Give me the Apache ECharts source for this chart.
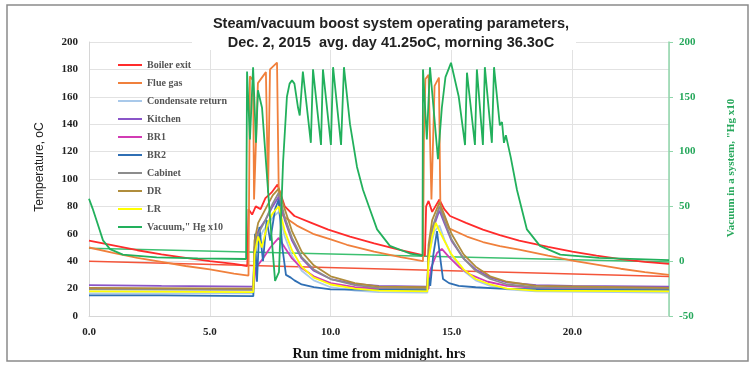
<!DOCTYPE html>
<html><head><meta charset="utf-8">
<script src="https://cdn.jsdelivr.net/npm/echarts@6/dist/echarts.min.js"></script>
<style>html,body{margin:0;padding:0;background:#fff}#c{width:755px;height:366px}</style>
</head><body><div id="c"></div>
<script>
// ---- data: [hours from midnight, value] ----
const titleLine1 = 'Steam/vacuum boost system operating parameters,';
const titleLine2 = 'Dec. 2, 2015  avg. day 41.25oC, morning 36.3oC';
const seriesNames = ['Boiler exit','Flue gas','Condensate return','Kitchen','BR1','BR2','Cabinet','DR','LR','Vacuum," Hg x10'];

const boilerExit = [[0,55],[1,51.5],[2,48],[3,45],[4,42.5],[5,40],[6,38],[6.55,36.5],[6.6,78],[6.75,74],[6.9,80],[7.1,78],[7.3,86],[7.55,90],[7.8,96],[7.95,88],[8.1,80],[8.5,73],[9.2,68],[9.9,63],[10.8,58],[11.8,53],[12.9,48],[13.9,44],[13.95,80],[14.05,84],[14.2,76],[14.5,85],[14.7,78],[14.94,73],[15.6,68],[16.3,63],[17,59],[17.8,55],[19,50.5],[20,47],[21,44],[22,41.5],[23,39.5],[24,38]];
const flueGas = [[0,50],[1,46],[2,42.5],[3,39.5],[4,36.5],[5,34],[6,31],[6.6,29.5],[6.66,175],[6.79,172],[6.83,85],[6.99,170],[7.32,178],[7.41,90],[7.49,180],[7.78,185],[7.86,80],[8.03,73],[8.6,66],[9.27,60],[10,56],[10.67,52],[11.8,47],[12.9,43],[13.82,40],[13.86,130],[13.92,173],[14.05,176],[14.12,176],[14.17,85],[14.3,168],[14.48,174],[14.54,80],[14.9,64],[15.64,58],[16.3,54],[17,51],[17.8,48.5],[19,44],[20,40.5],[21,37.5],[22,34.5],[23,32],[24,30]];
const condensateReturn = [[0,16.5],[6.8,16.5],[6.88,50],[7.2,62],[7.6,72],[7.85,76],[8.1,58],[8.4,44],[8.8,33],[9.3,26],[10,21],[11,18.5],[12,17.5],[14,17],[14.06,45],[14.3,62],[14.5,66],[14.7,56],[15,44],[15.5,33],[16,26],[16.6,22],[17.3,19.5],[18.5,18],[24,17]];
const kitchen = [[0,22.5],[3,22],[6.8,21.5],[6.85,50],[7,62],[7.3,70],[7.6,80],[7.85,87],[8.1,70],[8.4,55],[8.8,42],[9.3,33],[10,27],[11,23.5],[12,22],[14,21.5],[14.05,45],[14.2,62],[14.5,77],[14.7,68],[15,55],[15.5,42],[16,34],[16.6,28],[17.3,24.5],[18.5,22.5],[20,22],[24,21.5]];
const br1 = [[0,20],[6.8,19.5],[6.9,35],[7.2,42],[7.5,50],[7.85,57],[8.1,50],[8.4,42],[8.8,35],[9.3,29],[10,24],[11,21],[12,20],[14.05,20],[14.15,35],[14.4,46],[14.6,49],[14.9,43],[15.3,36],[15.8,30],[16.5,25],[17.3,22],[18.5,20.5],[24,20]];
const br2 = [[0,15],[3,15],[6.8,14.5],[6.87,60],[6.95,25],[7.05,65],[7.2,40],[7.35,70],[7.5,55],[7.7,78],[7.85,85],[8,50],[8.15,30],[8.35,28],[8.5,26],[8.8,23],[9.3,21],[10,19.5],[12,19],[14,19],[14.07,28],[14.12,22],[14.25,45],[14.4,62],[14.55,40],[14.65,27],[14.9,24],[15.3,22],[16,21],[17,20],[20,19],[24,19]];
const cabinet = [[0,19.5],[6.8,19],[6.85,48],[7,60],[7.3,70],[7.6,82],[7.85,90],[8.1,72],[8.4,57],[8.8,43],[9.3,34],[10,27],[11,22.5],[12,20.5],[14,20],[14.05,48],[14.2,64],[14.5,80],[14.7,70],[15,56],[15.5,42],[16,33],[16.6,27],[17.3,23],[18.5,21],[24,20]];
const dr = [[0,20.5],[6.8,20],[6.85,55],[7,68],[7.3,78],[7.6,88],[7.85,93],[8.1,78],[8.4,62],[8.8,47],[9.3,37],[10,29],[11,24],[12,21.5],[14,21],[14.05,52],[14.2,70],[14.5,83],[14.7,74],[15,60],[15.5,45],[16,36],[16.6,29],[17.3,25],[18.5,22],[24,20.5]];
const lr = [[0,18],[6.8,17.5],[6.85,45],[7,58],[7.15,50],[7.4,68],[7.6,75],[7.85,80],[8.1,62],[8.4,48],[8.8,36],[9.3,28],[10,23],[11,20],[12,18.5],[14,18],[14.05,40],[14.2,58],[14.35,68],[14.5,62],[14.7,55],[15,45],[15.5,34],[16,27],[16.6,23],[17.3,20],[18.5,18.5],[24,18]];
const vacuum = [[0,57],[0.15,48],[0.33,36],[0.58,19],[0.87,11],[1.4,6],[2.8,3.5],[4.5,2.5],[6.5,2],[6.54,173],[6.66,111],[6.79,177],[6.91,108],[6.99,156],[7.16,140],[7.49,40],[7.7,-18],[7.86,-10],[8.03,90],[8.19,150],[8.3,162],[8.4,165],[8.5,162],[8.65,140],[8.72,133],[8.85,173],[9.18,108],[9.27,175],[9.6,106],[9.68,175],[10.01,106],[10.1,177],[10.43,106],[10.55,177],[10.8,125],[11.09,86],[11.34,65],[11.63,47],[11.92,29],[12.45,14],[13.28,7],[13.8,5],[13.82,175],[13.98,111],[14.11,177],[14.44,93],[14.6,140],[14.75,168],[14.98,181],[15.3,150],[15.56,106],[15.64,172],[15.97,106],[16.05,175],[16.3,106],[16.38,177],[16.67,108],[16.76,177],[17,124],[17.09,127],[17.17,108],[17.25,115],[17.45,95],[17.71,65],[18.12,29],[18.66,14],[19.5,6],[21.1,3],[24,1]];
const trendBoiler = [[0,40],[24,28.8]];
const trendVacuum = [[0,49.5],[24,39.5]];

const serif = '"Liberation Serif","Times New Roman",serif';
const sans = '"Liberation Sans",Arial,sans-serif';
const colors = ['#ff2b2b','#f0803c','#a9c9ea','#8a55c8','#d23bb4','#2f6fb4','#8c8c8c','#b08d3c','#ffff00','#22b05c'];
const dataList = [boilerExit, flueGas, condensateReturn, kitchen, br1, br2, cabinet, dr, lr, vacuum];

const series = [
  {name:'trend1', type:'line', data:trendBoiler, showSymbol:false, symbol:'none', silent:true, lineStyle:{width:1.5,color:'#f4553a'}, z:1},
  {name:'trend2', type:'line', data:trendVacuum, showSymbol:false, symbol:'none', silent:true, lineStyle:{width:1.5,color:'#3cc070'}, z:1}
];
seriesNames.forEach((n,i)=>{
  series.push({name:n, type:'line', data:dataList[i], yAxisIndex: i===9?1:0, showSymbol:false, symbol:'none',
    lineStyle:{width:1.8,color:colors[i]}, itemStyle:{color:colors[i]}, z:2+i});
});

const chart = echarts.init(document.getElementById('c'), null, {renderer:'canvas'});
chart.setOption({
  animation:false,
  backgroundColor:'#fff',
  grid:{left:89, right:86, top:42, bottom:49, containLabel:false},
  legend:{data:seriesNames, orient:'vertical', left:118, top:60, padding:0, itemWidth:24, itemHeight:12, itemGap:8,
    icon:'path://M0,0 L24,0 L24,2 L0,2 Z',
    textStyle:{fontFamily:serif, fontWeight:'bold', fontSize:10, color:'#555'}},
  xAxis:{type:'value', min:0, max:24, interval:5,
    axisLine:{show:true, lineStyle:{color:'#d6d6d6'}}, axisTick:{show:false},
    splitLine:{show:true, lineStyle:{color:'#e2e2e2'}},
    axisLabel:{formatter:v=>v.toFixed(1), showMaxLabel:false, fontFamily:serif, fontWeight:'bold', fontSize:11, color:'#222', margin:11},
    name:'Run time from midnight. hrs', nameLocation:'middle', nameGap:31,
    nameTextStyle:{fontFamily:serif, fontWeight:'bold', fontSize:14, color:'#111'}},
  yAxis:[
    {type:'value', min:0, max:200, interval:20, position:'left',
      axisLine:{show:true, lineStyle:{color:'#d6d6d6'}}, axisTick:{show:false},
      splitLine:{show:true, lineStyle:{color:'#e2e2e2'}},
      axisLabel:{fontFamily:serif, fontWeight:'bold', fontSize:11, color:'#222', margin:11}},
    {type:'value', min:-50, max:200, interval:50, position:'right',
      axisLine:{show:true, lineStyle:{color:'#8fd6aa', width:1.5}},
      axisTick:{show:true, length:4, lineStyle:{color:'#8fd6aa'}},
      splitLine:{show:false},
      axisLabel:{fontFamily:serif, fontWeight:'bold', fontSize:11, color:'#27a85c', margin:10}}
  ],
  graphic:[
    {type:'rect', shape:{x:7, y:5, width:741, height:356}, style:{fill:'none', stroke:'#8a8a8a', lineWidth:1.5}, z:100, silent:true},
    {type:'rect', shape:{x:192, y:12, width:384, height:38}, style:{fill:'#fff'}, z:100, silent:true},
    {type:'text', x:391, y:24, z:101, style:{text:titleLine1, align:'center', verticalAlign:'middle', font:'bold 14.5px '+sans, fill:'#222'}},
    {type:'text', x:391, y:43, z:101, style:{text:titleLine2, align:'center', verticalAlign:'middle', font:'bold 14.5px '+sans, fill:'#222'}},
    {type:'text', x:40, y:167, rotation:Math.PI/2, z:101, style:{text:'Temperature, oC', align:'center', verticalAlign:'middle', font:'12px '+sans, fill:'#222'}},
    {type:'text', x:731, y:168, rotation:Math.PI/2, z:101, style:{text:'Vacuum in a system, "Hg x10', align:'center', verticalAlign:'middle', font:'bold 11px '+serif, fill:'#27a85c'}}
  ],
  series: series
});
</script></body></html>
